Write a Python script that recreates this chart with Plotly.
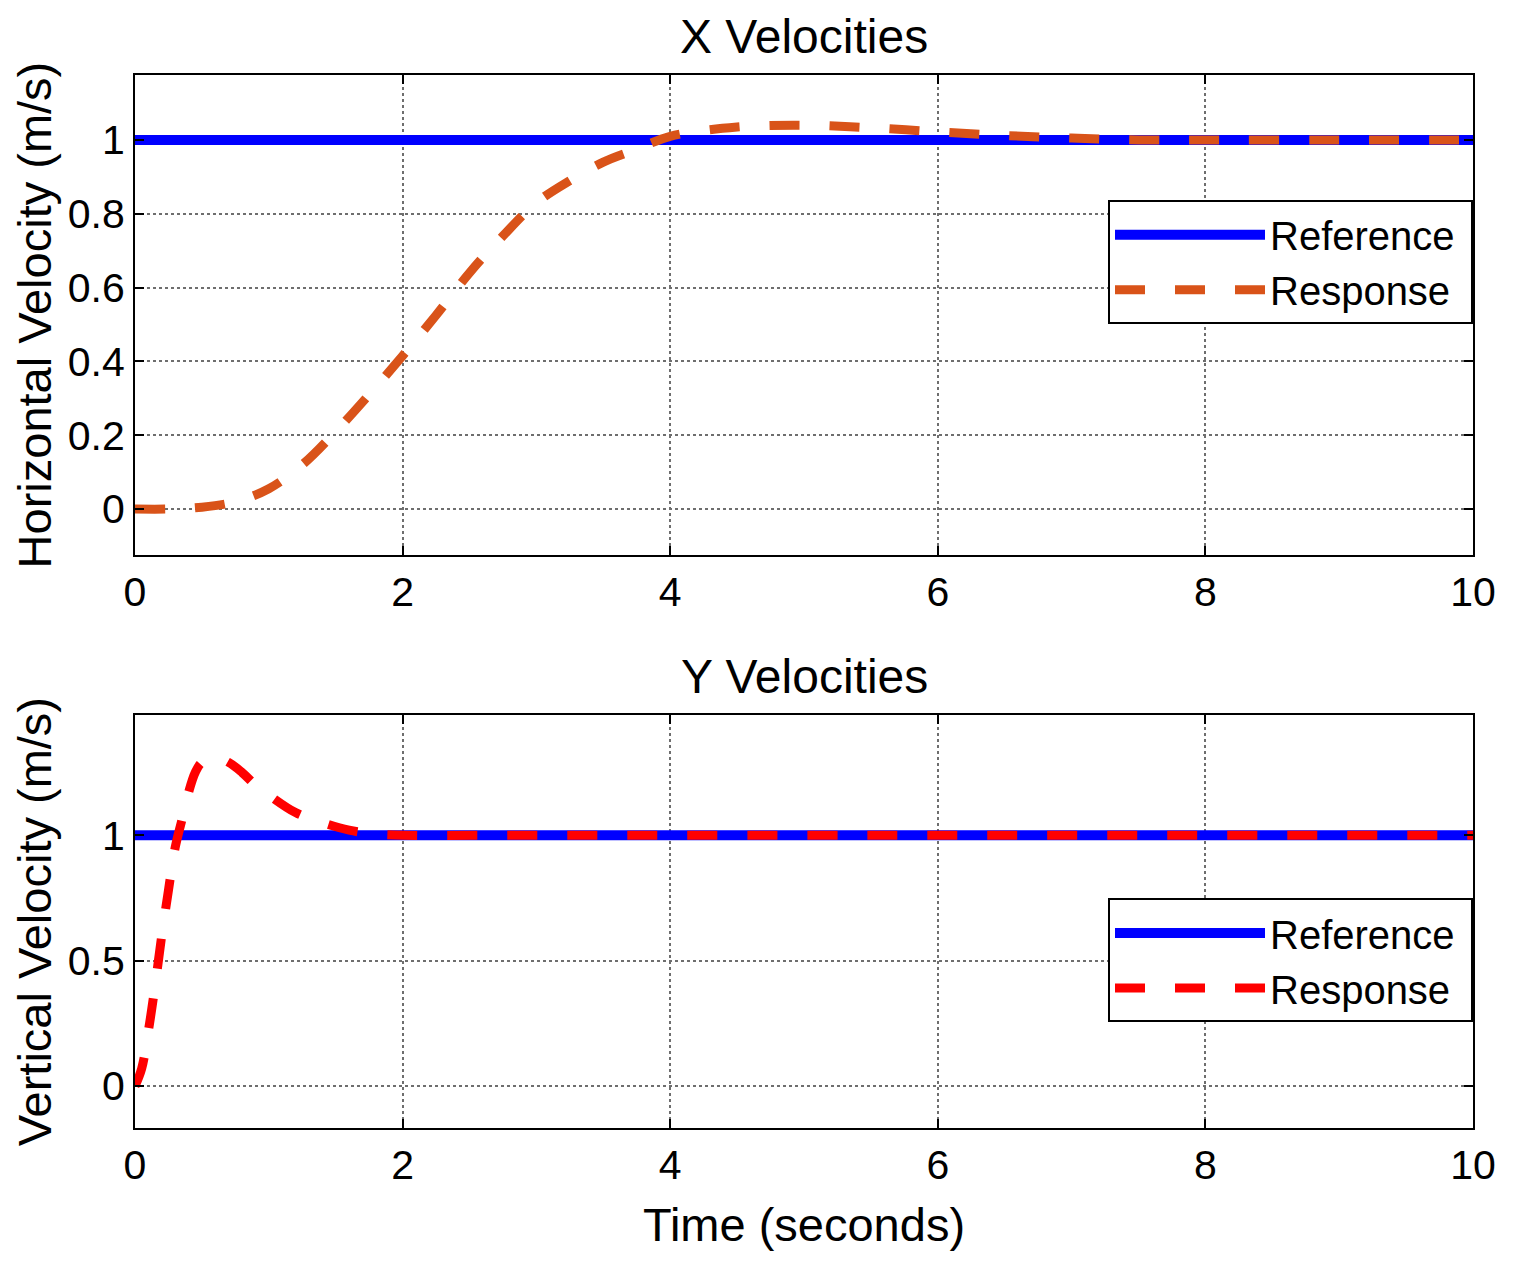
import plotly.graph_objects as go
from plotly.subplots import make_subplots

# reference signals (step to 1 m/s)
ref_time = [0, 10]
ref_x = [1, 1]
ref_y = [1, 1]

# x velocity response
time_x = [0, 0.25, 0.5, 0.75, 1.0, 1.25, 1.5, 1.75, 2.0, 2.25, 2.5, 2.75, 3.0,
          3.25, 3.5, 3.75, 4.0, 4.5, 5.0, 5.5, 6.0, 6.5, 7.0, 7.5, 8.0, 9.0, 10.0]
resp_x = [0, 0.0, 0.005, 0.02, 0.055, 0.12, 0.21, 0.31, 0.415, 0.525, 0.64, 0.74, 0.83,
          0.89, 0.94, 0.975, 1.01, 1.035, 1.04, 1.033, 1.022, 1.012, 1.005, 1.0, 1.0, 1.0, 1.0]

# y velocity response
time_y = [0, 0.05, 0.1, 0.15, 0.2, 0.25, 0.3, 0.35, 0.4, 0.45, 0.5, 0.6, 0.7, 0.8,
          0.9, 1.0, 1.2, 1.4, 1.6, 1.8, 2.0, 3.0, 5.0, 7.0, 10.0]
resp_y = [0, 0.07, 0.22, 0.40, 0.60, 0.78, 0.95, 1.06, 1.17, 1.25, 1.29, 1.31, 1.29, 1.25,
          1.20, 1.16, 1.09, 1.05, 1.02, 1.005, 1.0, 1.0, 1.0, 1.0, 1.0]

FONT = "Liberation Sans, Arial, sans-serif"
BLUE = "#0000FF"
ORANGE = "#D95319"
RED = "#FF0000"
DASH = "30px,30px"
PAD = "\u00a0"  # a bit of room on the right of the legend text

fig = make_subplots(rows=2, cols=1, vertical_spacing=0.152,
                    row_heights=[0.456, 0.392])

fig.add_trace(go.Scatter(x=ref_time, y=ref_x, mode="lines", name="Reference" + PAD,
                         line=dict(color=BLUE, width=10), legend="legend"), row=1, col=1)
fig.add_trace(go.Scatter(x=time_x, y=resp_x, mode="lines", name="Response" + PAD,
                         line=dict(color=ORANGE, width=9, dash=DASH, shape="spline"),
                         legend="legend"), row=1, col=1)
fig.add_trace(go.Scatter(x=ref_time, y=ref_y, mode="lines", name="Reference" + PAD,
                         line=dict(color=BLUE, width=10), legend="legend2"), row=2, col=1)
fig.add_trace(go.Scatter(x=time_y, y=resp_y, mode="lines", name="Response" + PAD,
                         line=dict(color=RED, width=9, dash=DASH, shape="spline"),
                         legend="legend2"), row=2, col=1)

axis_style = dict(
    showline=True, linecolor="black", linewidth=2, mirror="ticks",
    ticks="inside", ticklen=9, tickwidth=2, tickcolor="black",
    showgrid=True, gridcolor="#6e6e6e", gridwidth=1.5, griddash="dot",
    zeroline=False, tickfont=dict(family=FONT, size=41, color="black"),
)
title_font = dict(family=FONT, size=47, color="black")
fig.update_xaxes(axis_style)
fig.update_yaxes(axis_style)

fig.update_xaxes(range=[0, 10], tickvals=[0, 2, 4, 6, 8, 10])
fig.update_xaxes(title=dict(text="Time (seconds)", font=title_font, standoff=21),
                 row=2, col=1)
fig.update_yaxes(range=[-0.125, 1.176], tickvals=[0, 0.2, 0.4, 0.6, 0.8, 1],
                 ticktext=["0", "0.2", "0.4", "0.6", "0.8", "1"],
                 title=dict(text="Horizontal Velocity (m/s)", font=title_font, standoff=2),
                 row=1, col=1)
fig.update_yaxes(range=[-0.167, 1.478], tickvals=[0, 0.5, 1],
                 ticktext=["0", "0.5", "1"],
                 title=dict(text="Vertical Velocity (m/s)", font=title_font, standoff=2),
                 row=2, col=1)

legend_style = dict(
    xanchor="right", x=1, yanchor="top",
    bgcolor="white", bordercolor="black", borderwidth=2,
    font=dict(family=FONT, size=40, color="black"),
    itemwidth=150, tracegroupgap=0,
)
fig.update_layout(
    legend=dict(legend_style, y=0.881),
    legend2=dict(legend_style, y=0.218),
)

for txt, ypos in [("X Velocities", 1.0), ("Y Velocities", 0.392)]:
    fig.add_annotation(text=txt, x=0.5, y=ypos, xref="paper", yref="paper",
                       xanchor="center", yanchor="bottom", yshift=10, showarrow=False,
                       font=dict(family=FONT, size=48, color="black"))

# page body adds 8px around the plot, so the figure is a bit smaller than the window
fig.update_layout(
    width=1502, height=1251,
    margin=dict(l=127, r=37, t=67, b=131),
    plot_bgcolor="white", paper_bgcolor="white",
    showlegend=True,
)

fig.write_html("out.html")
